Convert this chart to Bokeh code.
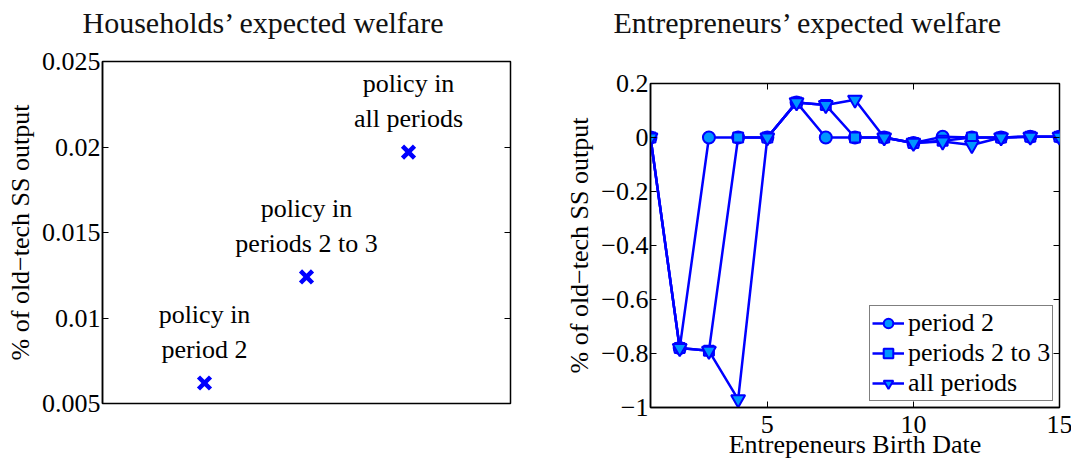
from bokeh.plotting import figure
from bokeh.models import (ColumnDataSource, FixedTicker, CustomJSTickFormatter,
                          LinearAxis, Range1d)
from bokeh.layouts import row
from bokeh.core.properties import value
from bokeh.embed import file_html
from bokeh.resources import INLINE

FONT = "Times New Roman"

# ---------------- data ----------------
policy_position = [1, 2, 3]
household_welfare = [0.0062, 0.0124, 0.0197]
policy_labels = ["policy in\nperiod 2", "policy in\nperiods 2 to 3", "policy in\nall periods"]
left_yticks = [0.005, 0.01, 0.015, 0.02, 0.025]
left_title = "Households\u2019 expected welfare"

birth_date = list(range(1, 16))
period2 = [0, -0.78, 0, 0, 0, 0.13, 0, 0, 0, -0.02, 0.003, 0, 0, 0.003, 0.003]
periods2to3 = [0, -0.78, -0.79, 0, 0, 0.13, 0.12, 0, 0, -0.02, -0.012, 0, 0, 0.003, 0.003]
all_periods = [0, -0.78, -0.79, -0.97, 0, 0.13, 0.12, 0.14, 0, -0.02, -0.015, -0.028, 0, 0.003, 0.003]
series_names = ["period 2", "periods 2 to 3", "all periods"]
right_xticks = [5, 10, 15]
right_yticks = [-1, -0.8, -0.6, -0.4, -0.2, 0, 0.2]
right_title = "Entrepreneurs\u2019 expected welfare"

LINE = "#0000ff"
FILL = "#0096ff"
TOP = 126  # shared height of the top border of both plots

fmt = CustomJSTickFormatter(code="return tick.toString().replace('-', '\u2212');")
blank = CustomJSTickFormatter(code="return '';")


def style_axis(ax):
    ax.major_tick_in = 6
    ax.major_tick_out = 0
    ax.minor_tick_line_color = None
    ax.axis_line_color = "black"
    ax.axis_line_width = 1.5
    ax.major_tick_line_color = "black"
    ax.major_tick_line_width = 1
    ax.major_label_text_font = FONT
    ax.major_label_text_font_size = "26px"
    ax.major_label_text_color = "black"
    ax.major_label_standoff = 2
    ax.axis_label_text_font = FONT
    ax.axis_label_text_font_size = "26px"
    ax.axis_label_text_font_style = "normal"
    ax.axis_label_text_color = "black"


def mirror_axis(p, side, ticks):
    ax = LinearAxis(ticker=FixedTicker(ticks=ticks), formatter=blank)
    ax.major_tick_in = 6
    ax.major_tick_out = 0
    ax.minor_tick_line_color = None
    ax.axis_line_color = None
    ax.major_tick_line_color = "black"
    ax.major_label_text_font_size = "1px"
    ax.major_label_standoff = 0
    p.add_layout(ax, side)


def style_title(p, offset, standoff):
    p.title.text_font = FONT
    p.title.text_font_size = "30px"
    p.title.text_font_style = "normal"
    p.title.text_color = "#111111"
    p.title.align = "left"
    p.title.offset = offset
    p.title.standoff = standoff


# ---------------- left figure ----------------
p1 = figure(frame_width=408, frame_height=342, output_backend="svg", toolbar_location=None,
            x_range=Range1d(0, 4), y_range=Range1d(0.005, 0.025),
            min_border_left=102, min_border_right=52, min_border_top=TOP, min_border_bottom=20,
            margin=(61 - TOP, 0, 0, 0), title=left_title)
style_title(p1, -20, 45)
p1.xgrid.visible = False
p1.ygrid.visible = False
p1.xaxis.visible = False
p1.outline_line_color = "black"
p1.outline_line_width = 1.5
p1.yaxis.ticker = FixedTicker(ticks=left_yticks)
p1.yaxis.formatter = fmt
p1.yaxis.axis_label = "% of old\u2212tech SS output"
style_axis(p1.yaxis[0])
p1.yaxis.axis_label_standoff = 4
mirror_axis(p1, "right", left_yticks)

src1 = ColumnDataSource(dict(x=policy_position, y=household_welfare, label=policy_labels))
p1.scatter("x", "y", source=src1, marker="x", size=17, line_color=LINE, line_width=4.5)
p1.text("x", "y", text="label", source=src1, text_align="center", text_baseline="bottom",
        y_offset=-19, text_font=value(FONT), text_font_size="26px", text_line_height=1.2,
        text_color="black")

# ---------------- right figure ----------------
p2 = figure(frame_width=409, frame_height=324, output_backend="svg", toolbar_location=None,
            x_range=Range1d(1, 15), y_range=Range1d(-1, 0.2),
            min_border_left=85, min_border_right=15, min_border_top=TOP, min_border_bottom=10,
            margin=(83 - TOP, 0, 0, 0), title=right_title)
style_title(p2, -37, 89)
p2.xgrid.visible = False
p2.ygrid.visible = False
p2.outline_line_color = "black"
p2.outline_line_width = 1.5
p2.xaxis.ticker = FixedTicker(ticks=right_xticks)
p2.yaxis.ticker = FixedTicker(ticks=right_yticks)
p2.xaxis.formatter = fmt
p2.yaxis.formatter = fmt
p2.yaxis.axis_label = "% of old\u2212tech SS output"
p2.xaxis.axis_label = "Entrepeneurs Birth Date"
style_axis(p2.yaxis[0])
style_axis(p2.xaxis[0])
p2.yaxis.axis_label_standoff = 4
p2.xaxis.axis_label_standoff = -6
p2.xaxis.major_label_standoff = 8
mirror_axis(p2, "right", right_yticks)
mirror_axis(p2, "above", right_xticks)

src2 = ColumnDataSource(dict(x=birth_date, a=period2, b=periods2to3, c=all_periods))
markers = ["circle", "square", "inverted_triangle"]
sizes = [12, 10, 14]
for col, name, mk, sz in zip(["a", "b", "c"], series_names, markers, sizes):
    p2.line("x", col, source=src2, line_color=LINE, line_width=2.5, legend_label=name)
    p2.scatter("x", col, source=src2, marker=mk, size=sz, fill_color=FILL,
               line_color=LINE, line_width=2, legend_label=name)

lg = p2.legend[0]
lg.location = (219, 6)
lg.margin = 0
lg.padding = 2
lg.spacing = 0
lg.label_height = 30
lg.glyph_height = 24
lg.glyph_width = 32
lg.label_standoff = 4
lg.label_text_font = FONT
lg.label_text_font_size = "26px"
lg.label_text_color = "black"
lg.border_line_color = "black"
lg.border_line_width = 1.2
lg.background_fill_alpha = 1.0

layout = row(p1, p2)
open("out.html", "w").write(file_html(layout, INLINE))
